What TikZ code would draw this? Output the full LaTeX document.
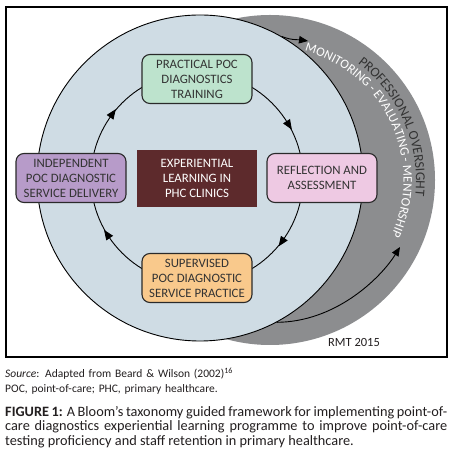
\documentclass[tikz,border=0pt]{standalone}
\usepackage{fontspec}
\setmainfont{Carlito}
\usetikzlibrary{arrows.meta,decorations.text,decorations.markings}
\definecolor{bluefill}{HTML}{CFDCE4}
\definecolor{grayfill}{HTML}{8C8D8F}
\definecolor{greenbox}{HTML}{BDE3CD}
\definecolor{purplebox}{HTML}{B79BC9}
\definecolor{pinkbox}{HTML}{EEC9E3}
\definecolor{orangebox}{HTML}{F9C98C}
\definecolor{maroonbox}{HTML}{5D2A2C}
\definecolor{textdark}{HTML}{333333}
\definecolor{boxline}{HTML}{2A2A2A}
\definecolor{captext}{HTML}{231F20}
\tikzset{
  stagebox/.style={draw=boxline, line width=1.1pt, rounded corners=8pt,
    minimum width=110pt, minimum height=49pt, inner sep=0pt, align=center,
    text=textdark, font=\fontsize{12.8}{15}\selectfont},
  tipstyle/.style={-{Triangle[length=9pt,width=7.5pt]}, line width=0.9pt},
  ringarrows/.style={postaction={decorate, decoration={markings,
    mark=at position 0.090 with {\arrow{Triangle[length=10pt,width=8pt,reversed]}},
    mark=at position 0.403 with {\arrow{Triangle[length=10pt,width=8pt,reversed]}},
    mark=at position 0.596 with {\arrow{Triangle[length=10pt,width=8pt,reversed]}},
    mark=at position 0.904 with {\arrow{Triangle[length=10pt,width=8pt,reversed]}}}}}
}
\begin{document}
\begin{tikzpicture}[x=1pt,y=1pt]
\useasboundingbox (0,0) rectangle (449,449);
\fill[white] (0,0) rectangle (449,449);
% outer gray circle
\node[circle, fill=grayfill, minimum size=330pt, inner sep=0pt] (gray) at (270,269) {};
% blue circle
\node[circle, fill=bluefill, draw=black, line width=0.9pt, minimum size=326pt, inner sep=0pt] (blue) at (200,271) {};
% frame
\draw[line width=1.2pt] (6,92) rectangle (447,442);
% inner ring
\coordinate (ringc) at (197,271);
\draw[line width=0.9pt, ringarrows] (ringc) circle[radius=106];
% stages
\node[stagebox, fill=greenbox] (train) at (197,370) {PRACTICAL POC\\DIAGNOSTICS\\TRAINING};
\node[stagebox, fill=pinkbox] (reflect) at (322,271) {REFLECTION AND\\ASSESSMENT};
\node[stagebox, fill=orangebox] (superv) at (197,171) {SUPERVISED\\POC DIAGNOSTIC\\SERVICE PRACTICE};
\node[stagebox, fill=purplebox] (indep) at (71,271) {INDEPENDENT\\POC DIAGNOSTIC\\SERVICE DELIVERY};
\node[fill=maroonbox, minimum width=120pt, minimum height=57pt, inner sep=0pt, align=center,
  text=white, font=\fontsize{12.8}{15}\selectfont] (centre) at (197,270.5) {EXPERIENTIAL\\LEARNING IN\\PHC CLINICS};
% outer arrows
\coordinate (tipA) at (308,408);
\draw[tipstyle] (blue.60) to[out=-22,in=172] (tipA);
\coordinate (tipB) at (400,202);
\draw[tipstyle] (blue.-62) .. controls (335,127) and (380,170) .. (tipB);
% curved texts
\path[decorate, decoration={text along path, text align=left,
  text={|\color{white}\fontsize{12.9}{12.9}\selectfont|MONITORING - EVALUATING - MENTORSHIP}}]
  ([shift={(75:133.5)}]gray.center) arc[start angle=75, end angle=-40, radius=133.5];
\path[decorate, decoration={text along path, text align=left,
  text={|\color{textdark}\fontsize{13.6}{13.6}\selectfont|PROFESSIONAL OVERSIGHT}}]
  ([shift={(53:146)}]gray.center) arc[start angle=53, end angle=-20, radius=146];
\node[font=\fontsize{12.5}{15}\selectfont, text=captext] (rmt) at (354,107) {RMT 2015};
% captions
\node[anchor=north west, inner sep=0pt, text width=440pt, align=left, text=captext,
  font=\fontsize{11.5}{14.5}\selectfont] (src) at (5,81)
  {\textit{Source}: Adapted from Beard \& Wilson (2002)\textsuperscript{16}\\POC, point-of-care; PHC, primary healthcare.};
\node[anchor=north west, inner sep=0pt, text width=442pt, align=justify, text=captext,
  font=\fontsize{14.3}{14.5}\selectfont] (cap) at (5,43)
  {\hyphenpenalty=10000 \emergencystretch=10pt \textbf{FIGURE 1:} A Bloom’s taxonomy guided framework for implementing point-of-\linebreak care diagnostics experiential learning programme to improve point-of-care\linebreak testing proficiency and staff retention in primary healthcare.};
\end{tikzpicture}
\end{document}
